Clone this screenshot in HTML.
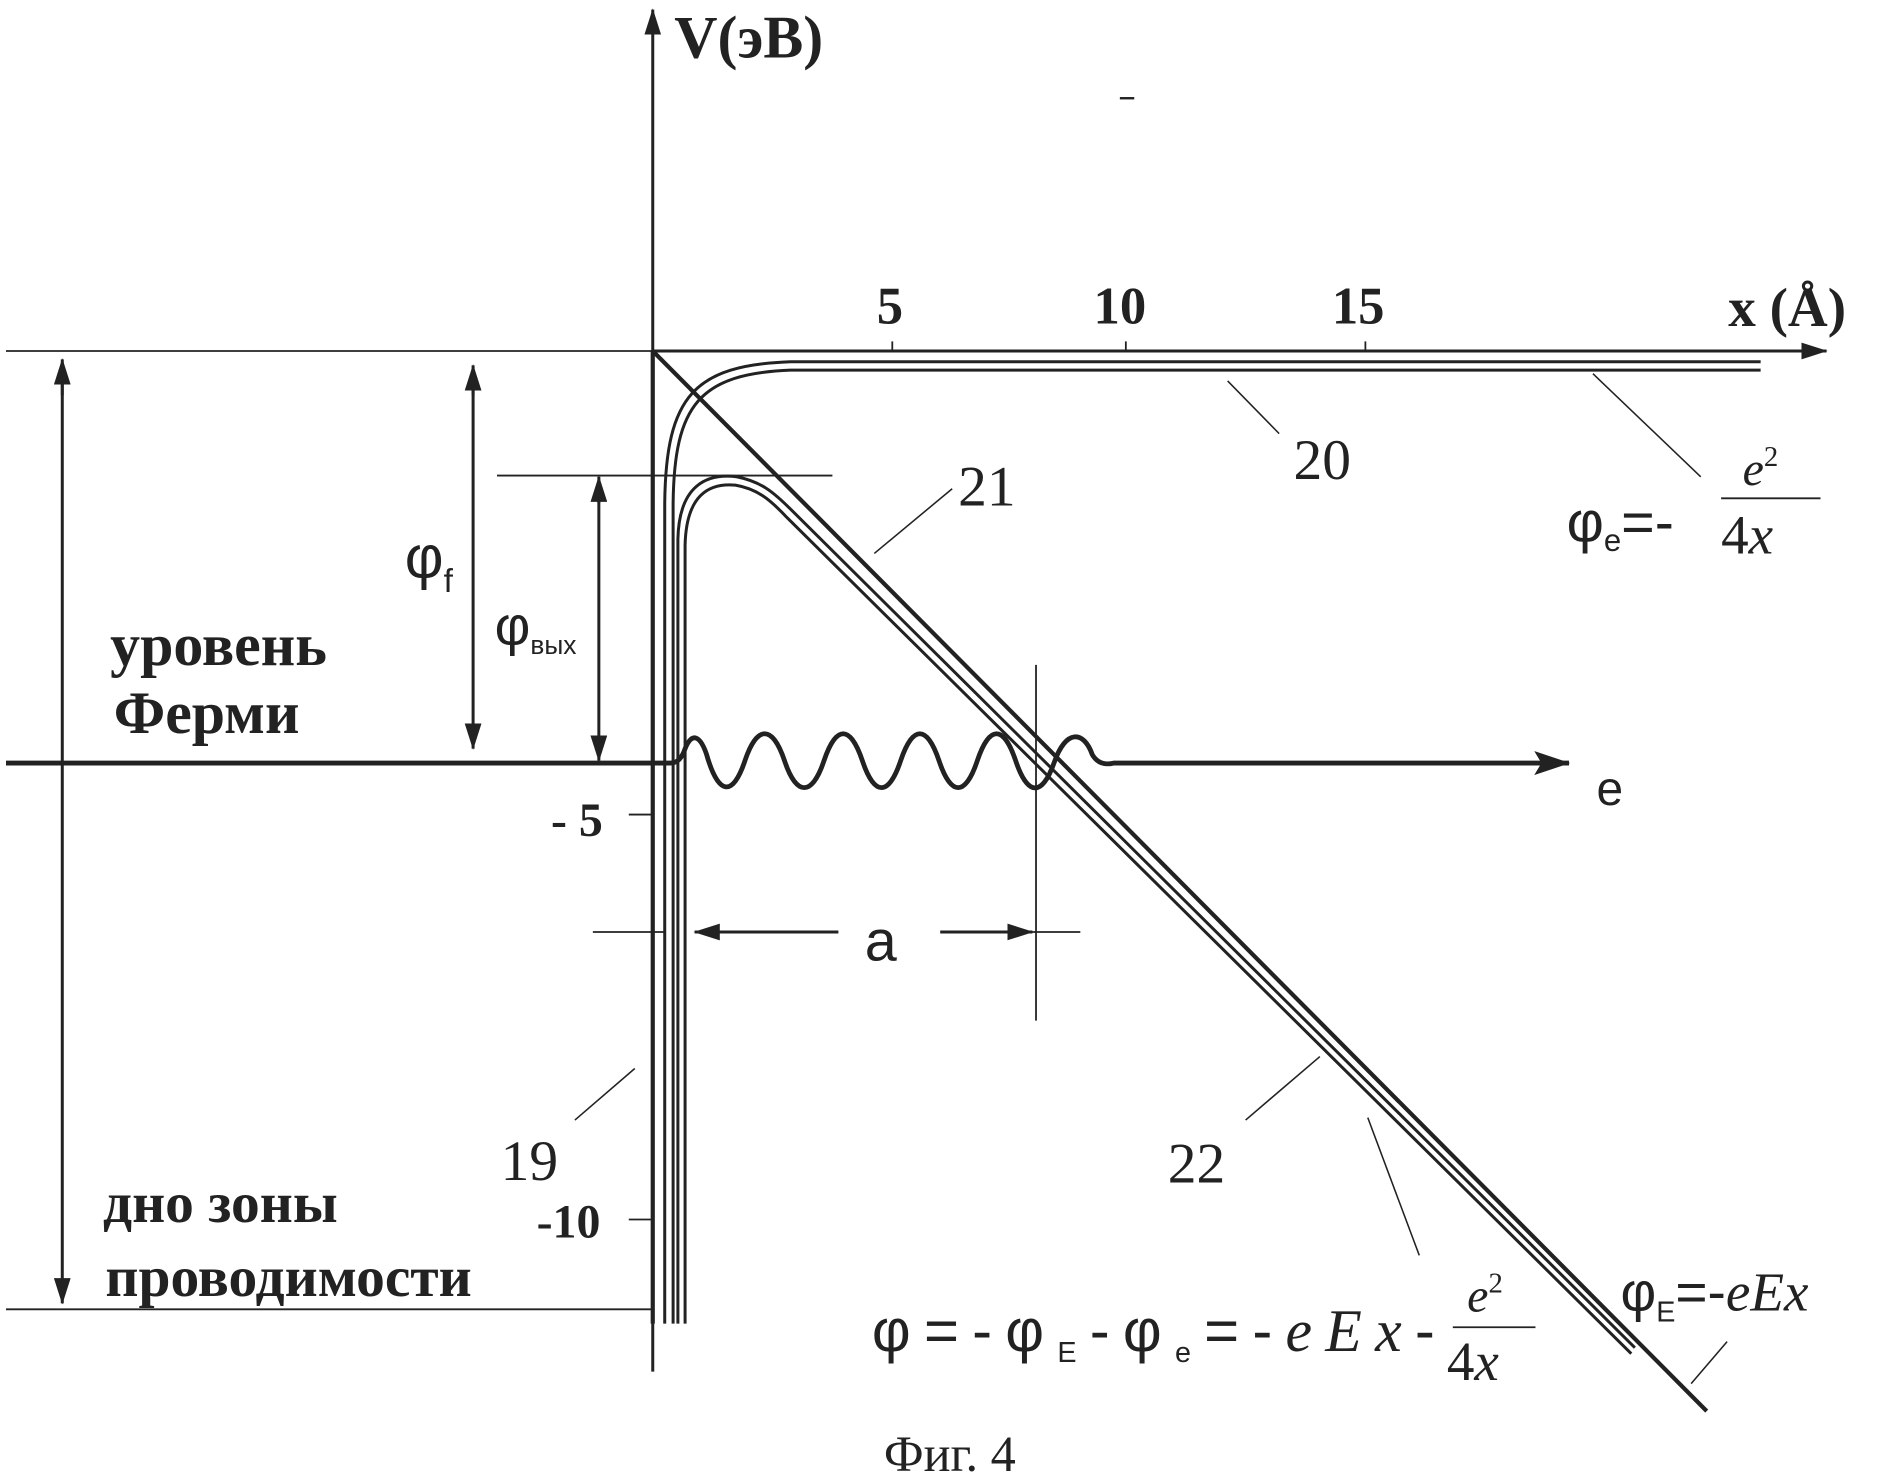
<!DOCTYPE html>
<html><head><meta charset="utf-8"><style>
html,body{margin:0;padding:0;background:#fff;}
svg{display:block;}
.b{font-family:"Liberation Serif",serif;font-weight:bold;fill:#222;}
.s{font-family:"Liberation Sans",sans-serif;fill:#222;}
.r{font-family:"Liberation Serif",serif;fill:#222;}
</style></head><body>
<svg width="1878" height="1483" viewBox="0 0 1568 1238" preserveAspectRatio="none" xmlns="http://www.w3.org/2000/svg">
<defs>
<marker id="big" markerWidth="30" markerHeight="20" refX="29" refY="10" orient="auto" markerUnits="userSpaceOnUse"><path d="M0,0 L30,10 L0,20 L6,10 Z" fill="#222"/></marker>
<marker id="mid" markerWidth="22" markerHeight="14" refX="21" refY="7" orient="auto" markerUnits="userSpaceOnUse"><path d="M0,0 L22,7 L0,14 Z" fill="#222"/></marker>
</defs>
<g stroke="#222" fill="none">
<line x1="545" y1="1145" x2="545" y2="8" stroke-width="2.5" marker-end="url(#mid)"/>
<line x1="545" y1="293" x2="1525" y2="293" stroke-width="2.5" marker-end="url(#mid)"/>
<line x1="5" y1="293" x2="545" y2="293" stroke-width="1.5"/>
<line x1="5" y1="1093" x2="545" y2="1093" stroke-width="1.5"/>
<line x1="415" y1="397" x2="695" y2="397" stroke-width="1.5"/>
<line x1="52" y1="330" x2="52" y2="300" stroke-width="2.5" marker-end="url(#mid)"/>
<line x1="52" y1="310" x2="52" y2="1088" stroke-width="2.5" marker-end="url(#mid)"/>
<line x1="395" y1="330" x2="395" y2="305" stroke-width="2.5" marker-end="url(#mid)"/>
<line x1="395" y1="315" x2="395" y2="625" stroke-width="2.5" marker-end="url(#mid)"/>
<line x1="500" y1="420" x2="500" y2="398" stroke-width="2.5" marker-end="url(#mid)"/>
<line x1="500" y1="410" x2="500" y2="635" stroke-width="2.5" marker-end="url(#mid)"/>
<path d="M5,637 L560,637 Q568,637 572,625 C578,610 585,615 590,630 C600,665 612,665 622,635 C632,605 645,605 655,635 C665,665 678,665 688,635 C698,605 710,605 720,635 C730,665 742,665 752,635 C762,605 774,605 784,635 C794,665 806,665 816,635 C826,605 838,605 848,635 C858,665 870,665 880,637 C890,608 905,610 912,630 Q918,640 930,637 L1310,637" stroke-width="4" marker-end="url(#big)"/>
<line x1="545" y1="293" x2="545" y2="1105" stroke-width="3.5"/>
<path d="M555,1105 L555,420 C556,330 580,305 660,302 L1470,302" stroke-width="2.5"/>
<path d="M562,1105 L562,420 C563,338 584,312 660,309 L1470,309" stroke-width="2.5"/>
<path d="M545,293 L1425,1178" stroke-width="3.5"/>
<path d="M566,1105 L566,450 C567,405 590,395 615,398 C635,402 645,410 660,425 L1365,1125" stroke-width="2.5"/>
<path d="M572,1105 L572,455 C573,413 592,403 614,405 C632,408 643,417 657,432 L1362,1130" stroke-width="2.5"/>
<line x1="495" y1="778" x2="555" y2="778" stroke-width="1.5"/>
<line x1="700" y1="778" x2="580" y2="778" stroke-width="2.5" marker-end="url(#mid)"/>
<line x1="785" y1="778" x2="862" y2="778" stroke-width="2.5" marker-end="url(#mid)"/>
<line x1="862" y1="778" x2="902" y2="778" stroke-width="1.5"/>
<line x1="865" y1="555" x2="865" y2="852" stroke-width="1.5"/>
<line x1="525" y1="680" x2="545" y2="680" stroke-width="1.5"/>
<line x1="525" y1="1018" x2="545" y2="1018" stroke-width="1.5"/>
<line x1="745" y1="285" x2="745" y2="293" stroke-width="1.5"/>
<line x1="940" y1="285" x2="940" y2="293" stroke-width="1.5"/>
<line x1="1140" y1="285" x2="1140" y2="293" stroke-width="1.5"/>
<line x1="480" y1="935" x2="530" y2="892" stroke-width="1.3"/>
<line x1="1068" y1="362" x2="1025" y2="318" stroke-width="1.3"/>
<line x1="795" y1="408" x2="730" y2="462" stroke-width="1.3"/>
<line x1="1040" y1="935" x2="1102" y2="882" stroke-width="1.3"/>
<line x1="1420" y1="398" x2="1330" y2="312" stroke-width="1.3"/>
<line x1="1185" y1="1048" x2="1142" y2="933" stroke-width="1.3"/>
<line x1="1442" y1="1120" x2="1412" y2="1155" stroke-width="1.3"/>
<line x1="1437" y1="416" x2="1520" y2="416" stroke-width="1.5"/>
<line x1="1213" y1="1108" x2="1282" y2="1108" stroke-width="1.5"/>
<line x1="935" y1="82" x2="947" y2="82" stroke-width="2"/>
</g>
<text x="563" y="48" class="b" font-size="50">V(эВ)</text>
<text x="732" y="270" class="b" font-size="44">5</text>
<text x="913" y="270" class="b" font-size="44">10</text>
<text x="1112" y="270" class="b" font-size="44">15</text>
<text x="1443" y="272" class="b" font-size="46">x (Å)</text>
<text x="92" y="555" class="b" font-size="50">уровень</text>
<text x="95" y="612" class="b" font-size="50">Ферми</text>
<text x="86" y="1020" class="b" font-size="48">дно  зоны</text>
<text x="88" y="1082" class="b" font-size="48">проводимости</text>
<text x="460" y="698" class="b" font-size="40">- 5</text>
<text x="448" y="1033" class="b" font-size="40">-10</text>
<text x="338" y="482" class="s" font-size="50">φ<tspan font-size="28" dy="12">f</tspan></text>
<text x="413" y="538" class="s" font-size="46">φ<tspan font-size="22" dy="8">вых</tspan></text>
<text x="1333" y="672" class="s" font-size="40">e</text>
<text x="722" y="802" class="s" font-size="48">a</text>
<text x="418" y="985" class="r" font-size="48">19</text>
<text x="1080" y="400" class="r" font-size="48">20</text>
<text x="800" y="422" class="r" font-size="48">21</text>
<text x="975" y="987" class="r" font-size="48">22</text>
<text x="1308" y="452" class="s" font-size="48">φ<tspan font-size="26" dy="8">e</tspan><tspan dy="-8">=-</tspan></text>
<text x="1455" y="405" class="r" font-size="40" font-style="italic">e<tspan font-size="24" dy="-16" font-style="normal">2</tspan></text>
<text x="1437" y="462" class="r" font-size="46">4<tspan font-style="italic">x</tspan></text>
<text x="1353" y="1094" class="s" font-size="46">φ<tspan font-size="24" dy="9">E</tspan><tspan dy="-9">=-</tspan><tspan class="r" font-style="italic">eEx</tspan></text>
<text x="728" y="1128" class="s" font-size="50" textLength="470">φ=-φ<tspan font-size="24" dy="9">E</tspan><tspan dy="-9">-φ</tspan><tspan font-size="24" dy="9">e</tspan><tspan dy="-9">=-</tspan><tspan font-style="italic" font-family="Liberation Serif">eEx</tspan><tspan>-</tspan></text>
<text x="1225" y="1095" class="r" font-size="40" font-style="italic">e<tspan font-size="24" dy="-16" font-style="normal">2</tspan></text>
<text x="1208" y="1152" class="r" font-size="46">4<tspan font-style="italic">x</tspan></text>
<text x="738" y="1228" class="r" font-size="42">Фиг. 4</text>
</svg>
</body></html>
